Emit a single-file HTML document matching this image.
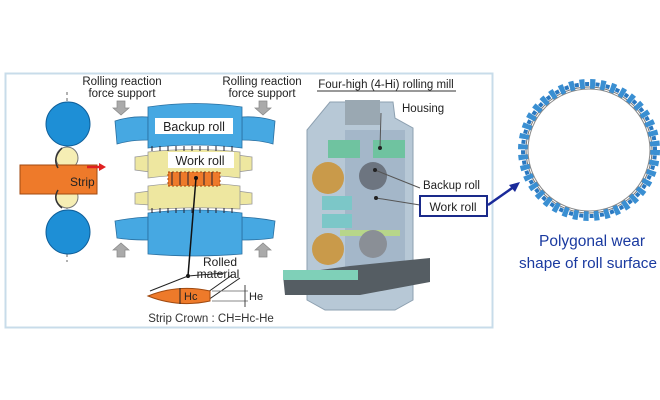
<!DOCTYPE html>
<html><head><meta charset="utf-8"><style>
body{margin:0;background:#fff;}
svg{display:block;font-family:"Liberation Sans",sans-serif;}
</style></head><body>
<svg width="660" height="400" viewBox="0 0 660 400">
<rect x="0" y="0" width="660" height="400" fill="#fff"/>
<rect x="5.5" y="73.5" width="487" height="254" fill="none" stroke="#c8dcea" stroke-width="2"/>

<!-- left small mill -->
<line x1="67" y1="92" x2="67" y2="262" stroke="#666" stroke-dasharray="3,3"/>
<circle cx="67" cy="158" r="11" fill="#f6eeb4" stroke="#777"/>
<circle cx="67" cy="197" r="11" fill="#f6eeb4" stroke="#777"/>
<circle cx="68" cy="124" r="22" fill="#1e8fd6" stroke="#0f5f9a"/>
<circle cx="68" cy="232" r="22" fill="#1e8fd6" stroke="#0f5f9a"/>
<path d="M20 165 L97 165 L97 194 L20 194 Z" fill="#ee7a2a" stroke="#a04a10"/>
<text x="70" y="186" font-size="12" fill="#222">Strip</text>
<path d="M58 168 Q52 158 62 148" fill="none" stroke="#333" stroke-width="1.5"/>
<path d="M58 190 Q52 200 62 208" fill="none" stroke="#333" stroke-width="1.5"/>
<line x1="87" y1="167" x2="100" y2="167" stroke="#e02020" stroke-width="2.5"/>
<polygon points="99,163 106,167 99,171" fill="#e02020"/>

<!-- labels -->
<g font-size="11.5" fill="#222" text-anchor="middle">
<text x="122" y="85">Rolling reaction</text><text x="122" y="97">force support</text>
<text x="262" y="85">Rolling reaction</text><text x="262" y="97">force support</text>
</g>
<g fill="#aaa" stroke="#888" stroke-width="0.7">
<polygon points="117,101 125,101 125,108 129,108 121,115 113,108 117,108"/>
<polygon points="259,101 267,101 267,108 271,108 263,115 255,108 259,108"/>
<polygon points="117,257 125,257 125,250 129,250 121,243 113,250 117,250"/>
<polygon points="259,257 267,257 267,250 271,250 263,243 255,250 259,250"/>
</g>

<!-- backup rolls -->
<g fill="#46a8e2" stroke="#2a6fa0" stroke-width="0.8">
<path d="M115 121 Q130 116 148 117 L148 140 Q130 140 117 144 Z"/>
<path d="M275 121 Q260 116 242 117 L242 140 Q260 140 273 144 Z"/>
<path d="M148 107 Q195 100 242 107 L242 148 Q195 142 148 148 Z"/>
<path d="M115 221 Q130 218 148 217 L148 240 Q130 240 117 238 Z"/>
<path d="M275 221 Q260 218 242 217 L242 240 Q260 240 273 238 Z"/>
<path d="M148 213 Q195 207 242 213 L242 254 Q195 258 148 254 Z"/>
</g>
<rect x="155" y="118" width="78" height="16" fill="#fff"/>
<text x="194" y="131" font-size="12.5" fill="#222" text-anchor="middle">Backup roll</text>
<!-- work rolls -->
<g fill="#eee7a0" stroke="#999" stroke-width="0.8">
<path d="M135 157 L150 155 L150 172 L135 170 Z"/>
<path d="M252 157 L237 155 L237 172 L252 170 Z"/>
<path d="M148 152 Q193 147 240 152 L240 178 Q193 172 148 178 Z"/>
<path d="M135 193 L150 191 L150 205 L135 204 Z"/>
<path d="M252 193 L237 191 L237 205 L252 204 Z"/>
<path d="M148 186 Q193 180 240 186 L240 209 Q193 206 148 210 Z"/>
</g>
<rect x="168" y="152" width="66" height="16" fill="#fff"/>
<text x="200" y="165" font-size="12.5" fill="#222" text-anchor="middle">Work roll</text>
<rect x="168" y="172" width="52" height="14" fill="#ee7a2a" stroke="#a04a10" stroke-dasharray="2,2"/>
<g stroke="#223" stroke-width="1">
<path d="M152 146v5M160 146v5M168 146v5M176 146v5M184 146v5M192 146v5M200 146v5M208 146v5M216 146v5M224 146v5M232 146v5"/>
<path d="M152 208v5M160 208v5M168 208v5M176 208v5M184 208v5M192 208v5M200 208v5M208 208v5M216 208v5M224 208v5M232 208v5"/>
<path d="M172 172v13M180 172v13M188 172v13M204 172v13M212 172v13"/>
</g>
<line x1="196" y1="178" x2="188" y2="276" stroke="#111" stroke-width="1.5"/>
<circle cx="196" cy="178" r="2" fill="#111"/><circle cx="188" cy="276" r="2" fill="#111"/>
<text x="220" y="266" font-size="12" fill="#222" text-anchor="middle">Rolled</text>
<text x="218" y="278" font-size="12" fill="#222" text-anchor="middle">material</text>
<!-- crown -->
<line x1="150" y1="291" x2="188" y2="276" stroke="#222"/>
<line x1="188" y1="276" x2="224" y2="273" stroke="#222"/>
<line x1="208" y1="292" x2="232" y2="275" stroke="#222"/>
<line x1="208" y1="300" x2="240" y2="278" stroke="#222"/>
<path d="M148 296 Q178 284 210 291 L210 301 Q178 308 148 296 Z" fill="#ee7a2a" stroke="#a04a10"/>
<line x1="180" y1="288" x2="180" y2="304" stroke="#222"/>
<text x="184" y="300" font-size="11" fill="#222">Hc</text>
<path d="M212 291 H248 M212 301 H248" stroke="#888"/>
<line x1="245" y1="285" x2="245" y2="307" stroke="#444"/>
<text x="249" y="300" font-size="11" fill="#222">He</text>
<text x="211" y="322" font-size="11.5" fill="#333" text-anchor="middle">Strip Crown : CH=Hc-He</text>

<!-- 3D mill -->
<text x="386" y="88" font-size="11.5" fill="#222" text-anchor="middle">Four-high (4-Hi) rolling mill</text>
<line x1="317" y1="91" x2="456" y2="91" stroke="#333"/>
<text x="402" y="112" font-size="11.5" fill="#222">Housing</text>
<path d="M307 130 L330 102 L393 102 L395 118 L413 128 L413 300 L395 310 L325 310 L307 300 Z" fill="#b7c8d6" stroke="#8da0b0"/>
<rect x="345" y="100" width="35" height="25" fill="#9aa8b2"/>
<rect x="345" y="130" width="60" height="150" fill="#9fb3c6" opacity="0.8"/>
<rect x="328" y="140" width="32" height="18" fill="#6fc3a0"/>
<rect x="373" y="140" width="32" height="18" fill="#6fc3a0"/>
<circle cx="328" cy="178" r="16" fill="#c99a4a"/>
<circle cx="373" cy="176" r="14" fill="#6d7580"/>
<rect x="322" y="196" width="30" height="14" fill="#7cc7c8"/>
<rect x="322" y="214" width="30" height="14" fill="#7cc7c8"/>
<rect x="340" y="230" width="60" height="6" fill="#b7d68a"/>
<circle cx="328" cy="249" r="16" fill="#c99a4a"/>
<circle cx="373" cy="244" r="14" fill="#8a8f96"/>
<path d="M283 275 L350 266 L430 258 L430 282 L360 295 L285 295 Z" fill="#555d63"/>
<rect x="283" y="270" width="75" height="10" fill="#7fd0b8"/>
<line x1="381" y1="113" x2="380" y2="148" stroke="#555"/><circle cx="380" cy="148" r="2" fill="#222"/>
<line x1="375" y1="170" x2="420" y2="188" stroke="#555"/><circle cx="375" cy="170" r="2" fill="#222"/>
<line x1="376" y1="198" x2="420" y2="205" stroke="#555"/><circle cx="376" cy="198" r="2" fill="#222"/>
<text x="423" y="189" font-size="11.5" fill="#222">Backup roll</text>
<rect x="420" y="196" width="67" height="20" fill="#fff" stroke="#1a2a8a" stroke-width="2"/>
<text x="453" y="211" font-size="12" fill="#222" text-anchor="middle">Work roll</text>
<line x1="488" y1="205" x2="515" y2="186" stroke="#1a2a9a" stroke-width="2.5"/>
<polygon points="520,182 509,185 515,192" fill="#1a2a9a"/>

<!-- polygonal wear circle -->
<circle cx="589" cy="150" r="63" fill="#fff" stroke="#777" stroke-width="1"/>
<circle cx="589" cy="150" r="66" fill="none" stroke="#3a8fd2" stroke-width="10" stroke-dasharray="5,5.4"/>
<circle cx="589" cy="150" r="66" fill="none" stroke="#2a78c0" stroke-width="4" stroke-dasharray="4,6.4" stroke-dashoffset="5"/>
<circle cx="589" cy="150" r="61" fill="#fff"/>
<circle cx="589" cy="150" r="61" fill="none" stroke="#888" stroke-width="1"/>
<text x="592" y="246" font-size="15.5" fill="#1a3aa0" text-anchor="middle">Polygonal wear</text>
<text x="519" y="268" font-size="15" fill="#1a3aa0" textLength="138" lengthAdjust="spacingAndGlyphs">shape of roll surface</text>
</svg>
</body></html>
